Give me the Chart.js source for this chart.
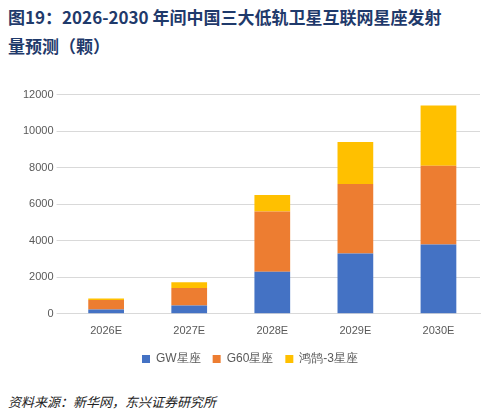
<!DOCTYPE html>
<html><head><meta charset="utf-8">
<script src="https://cdn.jsdelivr.net/npm/chart.js@4"></script>
<style>
body{margin:0;background:#fff;font-family:"Noto Sans CJK SC",sans-serif;}
#title{position:absolute;left:8px;top:2px;width:450px;font-size:17px;font-weight:bold;color:#1f3a6b;line-height:29px;}
#wrap{position:absolute;left:0;top:85px;width:492px;height:290px;}
#src{position:absolute;left:8px;top:392px;font-size:13px;font-style:italic;color:#222;}
</style></head><body>
<div id="title">图19：2026-2030 年间中国三大低轨卫星互联网星座发射<br>量预测（颗）</div>
<div id="wrap"><canvas id="c"></canvas></div>
<div id="src">资料来源：新华网，东兴证券研究所</div>
<script>
// data
const years = ['2026E', '2027E', '2028E', '2029E', '2030E'];
const gw = [240, 450, 2300, 3300, 3800];
const g60 = [510, 960, 3300, 3800, 4300];
const hongyan = [90, 320, 900, 2300, 3300];

const ctx = document.getElementById('c').getContext('2d');
new Chart(ctx, {
    type: 'bar',
    data: {
        labels: years,
        datasets: [
            { label: 'GW星座', data: gw, backgroundColor: '#4472c4' },
            { label: 'G60星座', data: g60, backgroundColor: '#ed7d31' },
            { label: '鸿鹄-3星座', data: hongyan, backgroundColor: '#ffc000' }
        ]
    },
    options: {
        responsive: true,
        maintainAspectRatio: false,
        animation: false,
        layout: { padding: { left: 20, right: 12, top: 0 } },
        datasets: { bar: { categoryPercentage: 0.43, barPercentage: 1 } },
        scales: {
            x: {
                stacked: true,
                grid: { display: false },
                border: { color: '#d9d9d9' },
                ticks: { color: '#595959', font: { size: 11 } }
            },
            y: {
                stacked: true,
                min: 0, max: 12000,
                ticks: { stepSize: 2000, color: '#595959', font: { size: 11 }, callback: v => String(v) },
                grid: { color: '#d9d9d9' },
                border: { display: false }
            }
        },
        plugins: {
            legend: {
                position: 'bottom',
                labels: { boxWidth: 8, boxHeight: 8, color: '#595959', font: { size: 12 }, padding: 12 }
            },
            tooltip: { enabled: false }
        }
    }
});
</script>
</body></html>
